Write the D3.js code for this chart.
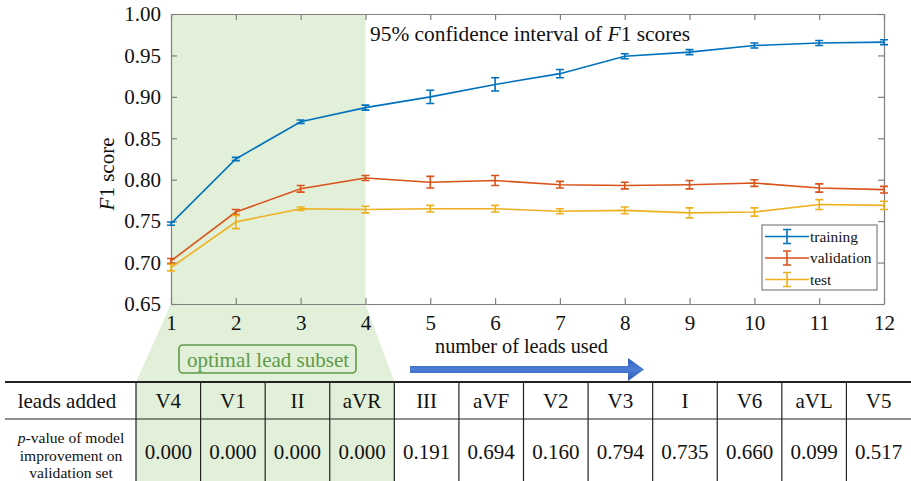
<!DOCTYPE html>
<html>
<head>
<meta charset="utf-8">
<script src="https://cdn.jsdelivr.net/npm/d3@7"></script>
<style>
  body { margin: 0; background: #fff; }
</style>
</head>
<body>
<div id="chart"></div>
<script>
// data
const leadCounts = [1, 2, 3, 4, 5, 6, 7, 8, 9, 10, 11, 12]
const leadsAdded = ["V4", "V1", "II", "aVR", "III", "aVF", "V2", "V3", "I", "V6", "aVL", "V5"]
const pValues = ["0.000", "0.000", "0.000", "0.000", "0.191", "0.694", "0.160", "0.794", "0.735", "0.660", "0.099", "0.517"]

const trainMean = [0.747, 0.825, 0.870, 0.887, 0.900, 0.915, 0.928, 0.949, 0.954, 0.962, 0.965, 0.966]
const trainErr  = [0.002, 0.002, 0.002, 0.003, 0.008, 0.008, 0.005, 0.003, 0.003, 0.003, 0.003, 0.003]
const valMean   = [0.702, 0.761, 0.789, 0.802, 0.797, 0.799, 0.794, 0.793, 0.794, 0.796, 0.790, 0.788]
const valErr    = [0.003, 0.003, 0.004, 0.003, 0.007, 0.006, 0.004, 0.004, 0.005, 0.004, 0.005, 0.004]
const testMean  = [0.694, 0.749, 0.765, 0.764, 0.765, 0.765, 0.762, 0.763, 0.760, 0.761, 0.770, 0.769]
const testErr   = [0.004, 0.008, 0.002, 0.004, 0.004, 0.004, 0.003, 0.004, 0.006, 0.005, 0.006, 0.005]

const yTicks = [0.65, 0.70, 0.75, 0.80, 0.85, 0.90, 0.95, 1.00]

const series = [
  { name: "training", color: "#0072BD", mean: trainMean, err: trainErr },
  { name: "validation", color: "#D95319", mean: valMean, err: valErr },
  { name: "test", color: "#EDB120", mean: testMean, err: testErr }
]

const W = 911, H = 481
const plot = { left: 171, right: 884, top: 14, bottom: 304 }
const optimalCount = 4
const FONT = "Liberation Serif"
const FS = 21

const svg = d3.select("#chart").append("svg")
  .attr("width", W).attr("height", H)
  .attr("font-family", FONT)

const x = d3.scaleLinear().domain([1, 12]).range([plot.left, plot.right])
const y = d3.scaleLinear().domain([0.65, 1.0]).range([plot.bottom, plot.top])

// table geometry
const table = { left: 5, right: 911, top: 382, mid: 419, bottom: 481, firstCol: 136 }
const colX = d3.scaleBand().domain(leadsAdded).range([table.firstCol, table.right])

const green = "#e2efd9"

// serif text helper
const txt = (sel, size) => sel.attr("font-family", FONT).style("font-family", FONT)
  .attr("font-size", size).style("font-size", size + "px").attr("fill", "#111")

// green shading: plot region, funnel and table columns
svg.append("rect")
  .attr("x", x(1)).attr("y", plot.top)
  .attr("width", x(optimalCount) - x(1)).attr("height", plot.bottom - plot.top)
  .attr("fill", green)

const optEnd = colX(leadsAdded[optimalCount - 1]) + colX.bandwidth()
svg.append("path")
  .attr("d", d3.line()([
    [x(1), plot.bottom], [x(optimalCount), plot.bottom],
    [optEnd, table.top], [table.firstCol, table.top]
  ]))
  .attr("fill", green)

svg.append("rect")
  .attr("x", table.firstCol).attr("y", table.top)
  .attr("width", optEnd - table.firstCol).attr("height", table.bottom - table.top)
  .attr("fill", green)

// axes, MATLAB style box with inward ticks
const axisColor = "#808080"
const g = svg.append("g")

const addAxis = (axis, tx, ty, labels) => {
  const a = g.append("g").attr("transform", `translate(${tx},${ty})`).call(axis)
  a.attr("font-family", FONT)
  a.select(".domain").attr("stroke", axisColor).attr("stroke-width", 1.2)
  a.selectAll(".tick line").attr("stroke", axisColor).attr("stroke-width", 1.2)
  txt(a.selectAll("text"), FS)
  if (!labels) a.selectAll("text").remove()
  return a
}

addAxis(d3.axisBottom(x).tickValues(leadCounts).tickFormat(d3.format("d")).tickSizeInner(-6).tickSizeOuter(0).tickPadding(11), 0, plot.bottom, true)
addAxis(d3.axisTop(x).tickValues(leadCounts).tickSizeInner(-6).tickSizeOuter(0), 0, plot.top, false)
addAxis(d3.axisLeft(y).tickValues(yTicks).tickFormat(d3.format(".2f")).tickSizeInner(-6).tickSizeOuter(0).tickPadding(10), plot.left, 0, true)
addAxis(d3.axisRight(y).tickValues(yTicks).tickSizeInner(-6).tickSizeOuter(0), plot.right, 0, false)

// y label
const yl = svg.append("text")
  .attr("transform", `translate(114,174) rotate(-90)`)
  .attr("text-anchor", "middle")
txt(yl, FS)
yl.append("tspan").style("font-style", "italic").text("F")
yl.append("tspan").text("1 score")

// title inside plot
const title = svg.append("text")
  .attr("x", 370).attr("y", 41)
txt(title, 21.4)
title.append("tspan").text("95% confidence interval of ")
title.append("tspan").style("font-style", "italic").text("F")
title.append("tspan").text("1 scores")

// series lines with error bars
const line = d3.line().x((d, i) => x(leadCounts[i])).y(d => y(d))
const cap = 4

series.forEach(s => {
  const sg = svg.append("g")
  sg.append("path")
    .attr("d", line(s.mean))
    .attr("fill", "none")
    .attr("stroke", s.color)
    .attr("stroke-width", 1.6)

  sg.selectAll(".eb").data(s.mean).join("path")
    .attr("class", "eb")
    .attr("fill", "none")
    .attr("stroke", s.color)
    .attr("stroke-width", 1.6)
    .attr("d", (d, i) => {
      const cx = x(leadCounts[i])
      const y1 = y(d - s.err[i]), y2 = y(d + s.err[i])
      return `M${cx},${y1}V${y2}M${cx - cap},${y1}H${cx + cap}M${cx - cap},${y2}H${cx + cap}`
    })
})

// legend
const legend = svg.append("g").attr("transform", "translate(762,225)")
legend.append("rect")
  .attr("width", 115).attr("height", 65)
  .attr("fill", "#fff").attr("stroke", axisColor).attr("stroke-width", 1.2)

series.forEach((s, i) => {
  const ly = 11.5 + i * 21.5
  const lg = legend.append("g").attr("transform", `translate(0,${ly})`)
  lg.append("path")
    .attr("d", `M3,0H47M25,-7V7M21,-7H29M21,7H29`)
    .attr("stroke", s.color).attr("stroke-width", 1.6).attr("fill", "none")
  txt(lg.append("text").attr("x", 48).attr("y", 5), 15.4).text(s.name)
})

// optimal lead subset label
svg.append("rect")
  .attr("x", 179).attr("y", 345)
  .attr("width", 177).attr("height", 28)
  .attr("rx", 4)
  .attr("fill", "none")
  .attr("stroke", "#5e9c47").attr("stroke-width", 1.6)
txt(svg.append("text")
  .attr("x", 268).attr("y", 366.5)
  .attr("text-anchor", "middle"), FS)
  .attr("fill", "#5e9c47")
  .text("optimal lead subset")

// number of leads arrow
txt(svg.append("text").attr("x", 435).attr("y", 353), 20.3)
  .text("number of leads used")

const defs = svg.append("defs")
const grad = defs.append("linearGradient")
  .attr("id", "arrowGrad").attr("x1", 0).attr("x2", 0).attr("y1", 0).attr("y2", 1)
grad.append("stop").attr("offset", "0%").attr("stop-color", "#2f5fb9")
grad.append("stop").attr("offset", "50%").attr("stop-color", "#4c7ed6")
grad.append("stop").attr("offset", "100%").attr("stop-color", "#2b57ad")

svg.append("path")
  .attr("d", d3.line()([[410, 366], [628, 366], [628, 358], [644, 369.5], [628, 381], [628, 373], [410, 373]]) + "Z")
  .attr("fill", "url(#arrowGrad)")

// table
const tg = svg.append("g")
const lineColor = "#222"
tg.append("line")
  .attr("x1", table.left).attr("x2", table.right)
  .attr("y1", table.top).attr("y2", table.top)
  .attr("stroke", lineColor).attr("stroke-width", 1.8)
tg.append("line")
  .attr("x1", table.left).attr("x2", table.right)
  .attr("y1", table.mid).attr("y2", table.mid)
  .attr("stroke", lineColor).attr("stroke-width", 1.2)

tg.selectAll(".vline").data(leadsAdded).join("line")
  .attr("class", "vline")
  .attr("x1", d => colX(d)).attr("x2", d => colX(d))
  .attr("y1", table.top).attr("y2", table.bottom)
  .attr("stroke", lineColor).attr("stroke-width", 1.2)

const plx = 71
txt(tg.append("text")
  .attr("x", 67).attr("y", 408)
  .attr("text-anchor", "middle"), FS)
  .text("leads added")

const pl = txt(tg.append("text").attr("text-anchor", "middle"), 15.6)
const l1 = pl.append("tspan").attr("x", plx).attr("y", 443)
l1.append("tspan").style("font-style", "italic").text("p")
l1.append("tspan").text("-value of model")
pl.append("tspan").attr("x", plx).attr("y", 460.5).text("improvement on")
pl.append("tspan").attr("x", plx).attr("y", 478).text("validation set")

txt(tg.selectAll(".lead").data(leadsAdded).join("text")
  .attr("class", "lead")
  .attr("x", d => colX(d) + colX.bandwidth() / 2)
  .attr("y", 408)
  .attr("text-anchor", "middle"), FS)
  .text(d => d)

txt(tg.selectAll(".pval").data(pValues).join("text")
  .attr("class", "pval")
  .attr("x", (d, i) => colX(leadsAdded[i]) + colX.bandwidth() / 2)
  .attr("y", 458.5)
  .attr("text-anchor", "middle"), FS)
  .text(d => d)
</script>
</body>
</html>
